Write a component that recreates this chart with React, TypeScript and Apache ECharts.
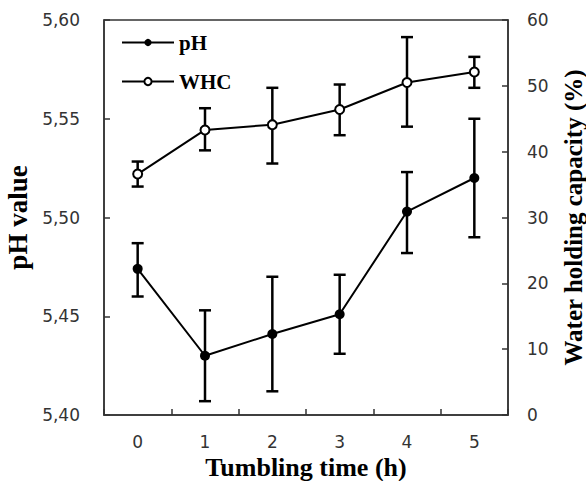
import React, { useEffect, useRef } from "react";
import * as echarts from "echarts";

const hours = ["0", "1", "2", "3", "4", "5"];
const phMean = [5.474, 5.43, 5.441, 5.451, 5.503, 5.52];
const phLow = [5.46, 5.407, 5.412, 5.431, 5.482, 5.49];
const phHigh = [5.487, 5.453, 5.47, 5.471, 5.523, 5.55];
const whcMean = [36.6, 43.3, 44.1, 46.4, 50.5, 52.1];
const whcLow = [34.7, 40.2, 38.2, 42.5, 43.8, 49.7];
const whcHigh = [38.5, 46.6, 49.7, 50.2, 57.4, 54.4];

const serif = "'Liberation Serif', 'Times New Roman', serif";
const sans = "'DejaVu Sans', sans-serif";

function errorBar(lo: number[], hi: number[], yAxisIndex: number, name: string) {
  return {
    type: "custom",
    name,
    yAxisIndex,
    z: 1,
    data: lo.map((l, i) => [i, l, hi[i]]),
    encode: { x: 0, y: [1, 2] },
    renderItem: (params: any, api: any) => {
      const x = api.value(0);
      const p1 = api.coord([x, api.value(1)]);
      const p2 = api.coord([x, api.value(2)]);
      const hw = 6;
      const style = { stroke: "#000", lineWidth: 2.5 };
      return {
        type: "group",
        children: [
          { type: "line", shape: { x1: p1[0], y1: p1[1], x2: p2[0], y2: p2[1] }, style },
          { type: "line", shape: { x1: p1[0] - hw, y1: p1[1], x2: p1[0] + hw, y2: p1[1] }, style },
          { type: "line", shape: { x1: p2[0] - hw, y1: p2[1], x2: p2[0] + hw, y2: p2[1] }, style },
        ],
      };
    },
  };
}

export default function App() {
  const ref = useRef<HTMLDivElement>(null);
  useEffect(() => {
    if (!ref.current) return;
    const chart = echarts.init(ref.current, null, { renderer: "svg" });
    const axisLine = { show: true, lineStyle: { color: "#333", width: 1.5 } };
    chart.setOption({
      animation: false,
      backgroundColor: "#fff",
      grid: {
        left: 104,
        right: 78,
        top: 20,
        bottom: 66,
        containLabel: false,
        outerBoundsMode: "none",
        show: true,
        borderColor: "#333",
        borderWidth: 1.5,
      },
      legend: {
        data: ["pH", "WHC"],
        orient: "vertical",
        left: 116,
        top: 27,
        itemWidth: 52,
        itemHeight: 9,
        itemGap: 18,
        textStyle: { fontFamily: serif, fontWeight: "bold", fontSize: 21, color: "#000" },
      },
      xAxis: {
        type: "category",
        data: hours,
        boundaryGap: true,
        axisLine,
        axisTick: { show: true, inside: true, length: 6, lineStyle: { color: "#333", width: 1.5 } },
        axisLabel: { fontFamily: sans, fontSize: 17, color: "#333", margin: 18 },
        splitLine: { show: false },
        name: "Tumbling time (h)",
        nameLocation: "middle",
        nameGap: 38,
        nameTextStyle: { fontFamily: serif, fontWeight: "bold", fontSize: 26, color: "#000" },
      },
      yAxis: [
        {
          type: "value",
          min: 5.4,
          max: 5.6,
          interval: 0.05,
          position: "left",
          axisLine,
          axisTick: { show: true, inside: true, length: 6, lineStyle: { color: "#333", width: 1.5 } },
          axisLabel: {
            fontFamily: sans,
            fontSize: 17,
            color: "#333",
            margin: 24,
            formatter: (v: number) => v.toFixed(2).replace(".", ","),
          },
          splitLine: { show: false },
          name: "pH value",
          nameLocation: "middle",
          nameRotate: 90,
          nameGap: 72,
          nameTextStyle: { fontFamily: serif, fontWeight: "bold", fontSize: 27, color: "#000" },
        },
        {
          type: "value",
          min: 0,
          max: 60,
          interval: 10,
          position: "right",
          axisLine,
          axisTick: { show: true, inside: true, length: 6, lineStyle: { color: "#333", width: 1.5 } },
          axisLabel: { fontFamily: sans, fontSize: 17, color: "#333", margin: 19 },
          splitLine: { show: false },
          name: "Water holding capacity (%)",
          nameLocation: "middle",
          nameRotate: 90,
          nameGap: 53,
          nameTextStyle: { fontFamily: serif, fontWeight: "bold", fontSize: 25, color: "#000" },
        },
      ],
      series: [
        errorBar(phLow, phHigh, 0, "pH err"),
        errorBar(whcLow, whcHigh, 1, "WHC err"),
        {
          type: "line",
          name: "pH",
          yAxisIndex: 0,
          data: phMean,
          z: 3,
          symbol: "circle",
          symbolSize: 10,
          itemStyle: { color: "#000" },
          lineStyle: { color: "#000", width: 2 },
        },
        {
          type: "line",
          name: "WHC",
          yAxisIndex: 1,
          data: whcMean,
          z: 3,
          symbol: "emptyCircle",
          symbolSize: 9,
          itemStyle: { color: "#000", borderWidth: 2 },
          lineStyle: { color: "#000", width: 2 },
        },
      ],
    });
    return () => chart.dispose();
  }, []);
  return (
    <div
      ref={ref}
      style={{ position: "fixed", left: 0, top: 0, width: 586, height: 481, background: "#fff" }}
    />
  );
}
